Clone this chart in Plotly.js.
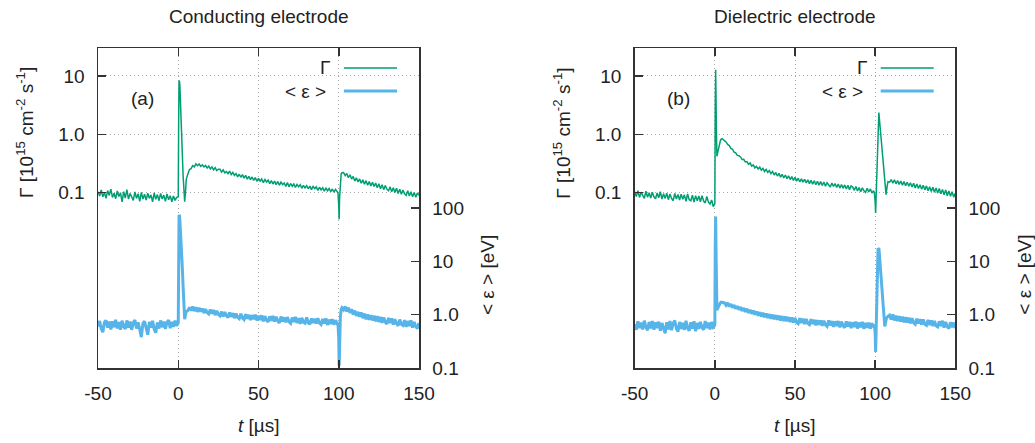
<!DOCTYPE html>
<html>
<head>
<meta charset="utf-8">
<script src="https://cdn.plot.ly/plotly-3.0.1.min.js"></script>
<style>html,body{margin:0;padding:0;background:#fff;}#chart{width:1035px;height:443px;}</style>
</head>
<body>
<div id="chart"></div>
<script>
// ---------- DATA ----------
const panelTitles = ["Conducting electrode", "Dielectric electrode"];
const panelLabels = ["(a)", "(b)"];
const gammaTicks = [0.1, 1, 10];
const gammaTickText = ["0.1", "1.0", "10"];
const epsTicks = [0.1, 1, 10, 100];
const epsTickText = ["0.1", "1.0", "10", "100"];
const xTicks = [-50, 0, 50, 100, 150];
const xTickText = ["-50", "0", "50", "100", "150"];

// Panel (a): conducting electrode
// t = -50 .. -1 (1 µs step)
const gammaA_pre = [0.104,0.088,0.112,0.085,0.101,0.080,0.109,0.090,0.115,0.083,
  0.098,0.079,0.107,0.086,0.100,0.070,0.104,0.081,0.113,0.078,
  0.097,0.084,0.074,0.103,0.080,0.096,0.071,0.101,0.078,0.094,
  0.075,0.098,0.080,0.092,0.070,0.099,0.077,0.093,0.073,0.097,
  0.078,0.091,0.071,0.095,0.076,0.089,0.070,0.088,0.074,0.083];
const epsA_pre = [0.60,0.76,0.55,0.47,0.72,0.78,0.57,0.74,0.53,0.75,
  0.58,0.80,0.55,0.73,0.52,0.77,0.60,0.54,0.78,0.57,
  0.74,0.52,0.71,0.79,0.55,0.72,0.53,0.38,0.69,0.75,
  0.56,0.42,0.73,0.57,0.77,0.53,0.46,0.71,0.55,0.78,
  0.58,0.74,0.54,0.72,0.79,0.56,0.73,0.59,0.77,0.62];
// first pulse
const tA_p1 = [0,0.25,0.5,0.75,1,1.5,2,2.5,3,3.5,4,4.5,5];
const gammaA_p1 = [0.085,1.5,8.3,8.0,7.0,3.5,1.3,0.5,0.2,0.09,0.07,0.1,0.17];
const epsA_p1 = [0.7,20,74,72,60,35,18,8,3.5,1.3,0.82,1.0,1.15];
// t = 6 .. 99
const gammaA_mid = [0.21,0.25,0.258,0.292,0.278,0.312,0.29,0.31,0.283,0.30,
  0.276,0.294,0.266,0.286,0.255,0.277,0.247,0.268,0.240,0.252,
  0.253,0.226,0.246,0.219,0.231,0.212,0.234,0.204,0.222,0.198,
  0.213,0.187,0.207,0.184,0.204,0.178,0.199,0.171,0.191,0.167,
  0.186,0.163,0.181,0.157,0.177,0.158,0.172,0.149,0.168,0.152,
  0.164,0.143,0.161,0.141,0.158,0.137,0.156,0.134,0.152,0.138,
  0.147,0.128,0.149,0.126,0.144,0.129,0.141,0.123,0.139,0.127,
  0.137,0.119,0.134,0.121,0.132,0.117,0.130,0.113,0.128,0.118,
  0.126,0.110,0.124,0.112,0.122,0.106,0.121,0.108,0.118,0.104,
  0.116,0.102,0.114,0.103];
const epsA_mid = [1.20,1.36,1.19,1.42,1.17,1.37,1.13,1.34,1.14,1.30,
  1.07,1.27,1.09,1.03,1.25,1.04,1.22,0.98,1.18,1.01,
  0.95,1.14,0.92,1.12,0.96,0.88,1.10,0.91,1.07,0.86,
  1.05,0.89,0.84,1.04,0.87,0.81,1.02,0.84,0.99,0.79,
  0.98,0.82,1.00,0.78,0.95,0.80,0.97,0.75,0.94,0.79,
  0.73,0.93,0.77,0.95,0.74,0.91,0.76,0.70,0.92,0.75,
  0.89,0.72,0.90,0.74,0.69,0.88,0.73,0.91,0.70,0.86,
  0.67,0.87,0.72,0.69,0.89,0.71,0.66,0.85,0.70,0.84,
  0.68,0.86,0.69,0.65,0.83,0.68,0.85,0.64,0.81,0.67,
  0.82,0.65,0.79,0.68];
// second pulse
const tA_p2 = [99.5,100,100.25,100.5,101,101.5,102];
const gammaA_p2 = [0.1,0.06,0.035,0.08,0.16,0.21,0.22];
const epsA_p2 = [0.7,0.35,0.11,0.4,0.9,1.25,1.35];
// t = 103 .. 150
const gammaA_tail = [0.222,0.196,0.214,0.181,0.203,0.171,0.190,0.158,0.180,0.153,
  0.172,0.145,0.166,0.140,0.161,0.134,0.155,0.131,0.151,0.128,
  0.146,0.122,0.142,0.117,0.137,0.113,0.133,0.115,0.108,0.126,
  0.104,0.122,0.101,0.119,0.097,0.115,0.094,0.111,0.096,0.090,
  0.108,0.088,0.104,0.085,0.101,0.084,0.099,0.090];
const epsA_tail = [1.24,1.42,1.15,1.35,1.08,1.26,1.01,1.19,0.95,1.13,
  0.91,1.10,0.86,1.05,0.82,1.01,0.80,0.98,0.78,0.96,
  0.75,0.94,0.73,0.91,0.70,0.89,0.72,0.67,0.87,0.70,
  0.85,0.65,0.82,0.68,0.62,0.81,0.66,0.63,0.79,0.59,
  0.76,0.61,0.78,0.57,0.73,0.60,0.55,0.70];

// Panel (b): dielectric electrode
// t = -50 .. -1
const gammaB_pre = [0.104,0.086,0.108,0.083,0.102,0.088,0.080,0.106,0.084,0.100,
  0.081,0.102,0.085,0.079,0.099,0.082,0.104,0.078,0.096,0.080,
  0.098,0.076,0.095,0.080,0.073,0.097,0.078,0.093,0.075,0.094,
  0.077,0.092,0.071,0.095,0.076,0.073,0.091,0.069,0.089,0.073,
  0.088,0.070,0.089,0.072,0.067,0.086,0.069,0.064,0.075,0.058];
const epsB_pre = [0.66,0.52,0.75,0.56,0.71,0.53,0.77,0.58,0.51,0.73,
  0.55,0.76,0.52,0.72,0.56,0.74,0.50,0.70,0.55,0.45,
  0.72,0.53,0.76,0.51,0.69,0.78,0.55,0.48,0.73,0.54,
  0.70,0.52,0.77,0.56,0.50,0.72,0.55,0.75,0.49,0.70,
  0.54,0.73,0.57,0.52,0.76,0.56,0.71,0.53,0.73,0.58];
// first pulse
const tB_p1 = [-0.5,0,0.25,0.5,0.75,1,1.3,2,2.5,3,3.5,4,4.5,5];
const gammaB_p1 = [0.062,0.065,3,12.7,4,1.0,0.42,0.52,0.62,0.72,0.79,0.83,0.84,0.82];
const epsB_p1 = [0.6,0.65,20,69,15,3,1.22,1.35,1.5,1.6,1.68,1.72,1.7,1.66];
// t = 6 .. 99
const gammaB_mid = [0.78,0.74,0.67,0.64,0.575,0.555,0.495,0.48,0.435,0.43,
  0.41,0.37,0.372,0.336,0.342,0.305,0.322,0.285,0.30,0.266,
  0.283,0.255,0.274,0.243,0.262,0.231,0.251,0.222,0.240,0.212,
  0.231,0.201,0.222,0.193,0.214,0.185,0.207,0.179,0.201,0.174,
  0.195,0.168,0.189,0.162,0.183,0.158,0.177,0.153,0.173,0.152,
  0.170,0.147,0.166,0.143,0.163,0.140,0.160,0.137,0.157,0.135,
  0.155,0.133,0.152,0.129,0.148,0.132,0.125,0.147,0.128,0.143,
  0.123,0.141,0.120,0.138,0.119,0.136,0.116,0.134,0.113,0.131,
  0.125,0.110,0.128,0.107,0.123,0.104,0.121,0.108,0.101,0.119,
  0.103,0.116,0.099,0.108];
const epsB_mid = [1.66,1.50,1.66,1.42,1.58,1.35,1.51,1.29,1.44,1.24,
  1.39,1.18,1.33,1.13,1.29,1.08,1.23,1.04,1.19,1.00,
  1.15,0.96,1.11,0.92,1.08,0.90,1.05,0.87,1.02,0.84,
  1.00,0.82,0.98,0.80,0.96,0.78,0.94,0.76,0.92,0.75,
  0.90,0.73,0.89,0.71,0.87,0.72,0.68,0.86,0.70,0.84,
  0.67,0.83,0.69,0.65,0.82,0.67,0.80,0.63,0.79,0.65,
  0.78,0.62,0.77,0.64,0.60,0.78,0.63,0.76,0.59,0.75,
  0.61,0.76,0.58,0.74,0.62,0.57,0.75,0.60,0.73,0.56,
  0.72,0.59,0.74,0.55,0.71,0.58,0.73,0.54,0.70,0.57,
  0.71,0.55,0.69,0.58];
// second pulse
const tB_gp2 = [99.5,100,100.3,102.3,106.8,107.5,108];
const gammaB_p2 = [0.1,0.07,0.045,2.36,0.093,0.13,0.155];
const tB_ep2 = [99.5,100,100.3,101.8,102.4,106,107,108];
const epsB_p2 = [0.66,0.45,0.2,17.5,17,0.6,0.85,0.93];
// t = 109 .. 150
const gammaB_tail = [0.152,0.168,0.145,0.166,0.142,0.162,0.139,0.159,0.135,0.155,
  0.132,0.151,0.129,0.148,0.125,0.145,0.121,0.141,0.118,0.137,
  0.115,0.134,0.112,0.131,0.108,0.127,0.105,0.124,0.102,0.121,
  0.099,0.118,0.096,0.114,0.092,0.111,0.089,0.107,0.087,0.104,
  0.084,0.098];
const epsB_tail = [0.98,0.81,1.01,0.78,0.96,0.76,0.94,0.74,0.92,0.72,
  0.90,0.71,0.88,0.69,0.86,0.70,0.66,0.84,0.68,0.82,
  0.65,0.81,0.66,0.63,0.80,0.64,0.78,0.61,0.76,0.62,
  0.59,0.75,0.61,0.77,0.57,0.73,0.60,0.55,0.72,0.58,
  0.71,0.56];

// ---------- assemble ----------
function grid(a, b) { const r = []; for (let t = a; t <= b; t++) r.push(t); return r; }
const tA = [...grid(-50,-1), ...tA_p1, ...grid(6,99), ...tA_p2, ...grid(103,150)];
const gammaA = [...gammaA_pre, ...gammaA_p1, ...gammaA_mid, ...gammaA_p2, ...gammaA_tail];
const epsA = [...epsA_pre, ...epsA_p1, ...epsA_mid, ...epsA_p2, ...epsA_tail];
const tBg = [...grid(-50,-1), ...tB_p1, ...grid(6,99), ...tB_gp2, ...grid(109,150)];
const gammaB = [...gammaB_pre, ...gammaB_p1, ...gammaB_mid, ...gammaB_p2, ...gammaB_tail];
const tBe = [...grid(-50,-1), ...tB_p1, ...grid(6,99), ...tB_ep2, ...grid(109,150)];
const epsB = [...epsB_pre, ...epsB_p1, ...epsB_mid, ...epsB_p2, ...epsB_tail];

const GREEN = '#009e73', BLUE = '#56b4e9';
const W = 1035, H = 443;
const px = v => v / W, py = v => 1 - v / H;

const traces = [
  {x: tA, y: epsA, xaxis: 'x', yaxis: 'y2', type: 'scatter', mode: 'lines', line: {color: BLUE, width: 3}},
  {x: tA, y: gammaA, xaxis: 'x', yaxis: 'y', type: 'scatter', mode: 'lines', line: {color: GREEN, width: 1.5}},
  {x: tBe, y: epsB, xaxis: 'x2', yaxis: 'y4', type: 'scatter', mode: 'lines', line: {color: BLUE, width: 3}},
  {x: tBg, y: gammaB, xaxis: 'x2', yaxis: 'y3', type: 'scatter', mode: 'lines', line: {color: GREEN, width: 1.5}}
];

const FRAME = '#333';
const GRID = '#aaa';
const yDom = [py(368), py(48)];
function xAxis(dom, anchor) {
  return {domain: dom, anchor: anchor, range: [-50, 150], tickvals: xTicks, ticktext: xTickText,
    ticks: 'inside', ticklen: 8, tickcolor: FRAME, tickwidth: 1.5, showline: true, linecolor: FRAME,
    linewidth: 1.5, mirror: 'ticks', showgrid: true, gridcolor: GRID, griddash: '1px,3px', gridwidth: 1,
    zeroline: false, ticklabelstandoff: 8, tickfont: {size: 19}};
}
function gAxis(anchor) {
  return {domain: yDom, anchor: anchor, type: 'log', range: [-4, Math.log10(30)],
    tickvals: gammaTicks, ticktext: gammaTickText, ticks: 'inside', ticklen: 8, tickcolor: FRAME, tickwidth: 1.5,
    showline: true, linecolor: FRAME, linewidth: 1.5, mirror: true,
    showgrid: true, gridcolor: GRID, griddash: '1px,3px', gridwidth: 1, zeroline: false,
    ticklabelstandoff: 8, tickfont: {size: 19}};
}
function eAxis(over, anchor) {
  return {overlaying: over, anchor: anchor, side: 'right', type: 'log', range: [-1, 5],
    tickvals: epsTicks, ticktext: epsTickText, ticks: 'inside', ticklen: 8, tickcolor: FRAME, tickwidth: 1.5,
    showline: true, linecolor: FRAME, linewidth: 1.5, showgrid: false, zeroline: false,
    ticklabelstandoff: 8, tickfont: {size: 19}};
}

const panels = [{x0: 98, x1: 419}, {x0: 634.7, x1: 955.3}];
const annotations = [];
const shapes = [];
panels.forEach((p, i) => {
  const cx = (p.x0 + p.x1) / 2;
  const dx = p.x0 - 98;
  annotations.push({xref: 'paper', yref: 'paper', x: px(cx), y: py(16), text: panelTitles[i], showarrow: false,
    xanchor: 'center', yanchor: 'middle', font: {size: 19}});
  annotations.push({xref: 'paper', yref: 'paper', x: px(cx), y: py(425), text: '<i>t</i> [µs]', showarrow: false,
    xanchor: 'center', yanchor: 'middle', font: {size: 19}});
  annotations.push({xref: 'paper', yref: 'paper', x: px(25 + dx), y: py(133),
    text: 'Γ [10<sup>15</sup> cm<sup>-2</sup> s<sup>-1</sup>]', textangle: -90, showarrow: false,
    xanchor: 'center', yanchor: 'middle', font: {size: 19}});
  annotations.push({xref: 'paper', yref: 'paper', x: px(487 + dx), y: py(275),
    text: '&lt; ε &gt; [eV]', textangle: -90, showarrow: false,
    xanchor: 'center', yanchor: 'middle', font: {size: 19}});
  annotations.push({xref: 'paper', yref: 'paper', x: px(142 + dx), y: py(98), text: panelLabels[i], showarrow: false,
    xanchor: 'center', yanchor: 'middle', font: {size: 19}});
  annotations.push({xref: 'paper', yref: 'paper', x: px(332 + dx), y: py(68), text: 'Γ', showarrow: false,
    xanchor: 'right', yanchor: 'middle', font: {size: 19}});
  annotations.push({xref: 'paper', yref: 'paper', x: px(328 + dx), y: py(91), text: '&lt; ε &gt;', showarrow: false,
    xanchor: 'right', yanchor: 'middle', font: {size: 19}});
  shapes.push({type: 'line', xref: 'paper', yref: 'paper', x0: px(344 + dx), x1: px(397 + dx), y0: py(68), y1: py(68),
    line: {color: GREEN, width: 1.5}});
  shapes.push({type: 'line', xref: 'paper', yref: 'paper', x0: px(344 + dx), x1: px(397 + dx), y0: py(91), y1: py(91),
    line: {color: BLUE, width: 3}});
});

const layout = {
  width: W, height: H, margin: {l: 0, r: 0, t: 0, b: 0}, showlegend: false,
  paper_bgcolor: '#fff', plot_bgcolor: '#fff',
  font: {family: '"Liberation Sans", Arial, sans-serif', size: 19, color: '#222'},
  xaxis: xAxis([px(98), px(419)], 'y'),
  yaxis: gAxis('x'),
  yaxis2: eAxis('y', 'x'),
  xaxis2: xAxis([px(634.7), px(955.3)], 'y3'),
  yaxis3: gAxis('x2'),
  yaxis4: eAxis('y3', 'x2'),
  annotations: annotations,
  shapes: shapes
};

Plotly.newPlot('chart', traces, layout, {staticPlot: true, displayModeBar: false});
</script>
</body>
</html>
